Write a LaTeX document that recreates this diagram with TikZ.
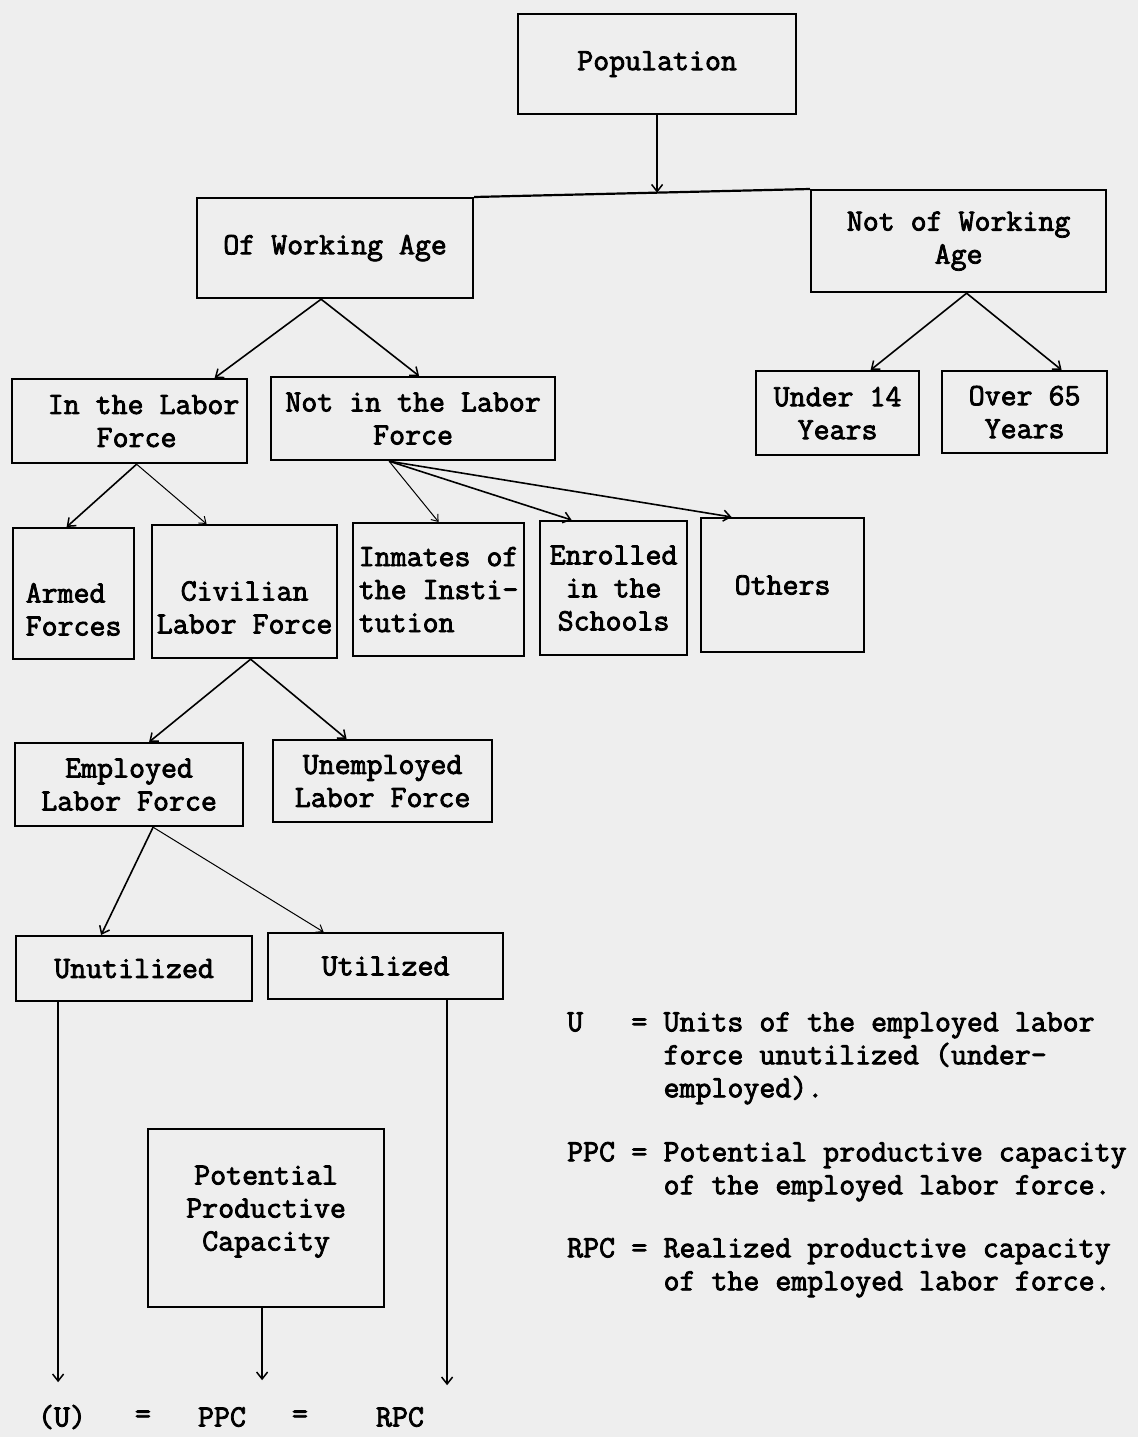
\documentclass[tikz,border=0pt]{standalone}
\usepackage{fontspec}
\setmonofont{Latin Modern Mono}[FakeBold=2.6]
\usetikzlibrary{arrows.meta,calc}
\newcommand\twfont{\fontsize{31}{33}\selectfont\ttfamily}
\definecolor{paper}{RGB}{238,238,238}
\begin{document}
\begin{tikzpicture}[x=1pt,y=-1pt,
  box/.style={draw, line width=2.2pt, inner sep=0pt, align=center, anchor=north west, font=\twfont},
  txt/.style={inner sep=0pt, font=\twfont},
  conn/.style={line width=1.6pt, -{Straight Barb[length=7pt,width=11pt,line width=1.5pt]}},
  thin/.style={line width=1.0pt, -{Straight Barb[length=6pt,width=9pt,line width=1pt]}},
  plain/.style={line width=1.6pt}
]
\fill[paper] (0,0) rectangle (1138,1437);
\useasboundingbox (0,0) rectangle (1138,1437);

% boxes
\node[box, minimum width=278pt, minimum height=100pt] (pop) at (517,13) {Population};
\node[box, minimum width=276pt, minimum height=100pt] (owa) at (196,197) {Of Working Age};
\node[box, minimum width=295pt, minimum height=102pt] (nwa) at (810,189) {Not of Working\\Age};
\node[box, minimum width=235pt, minimum height=84pt] (ilf) at (11,378) {\hspace*{28pt}In the Labor\\\hspace*{14pt}Force};
\node[box, minimum width=284pt, minimum height=83pt] (nilf) at (270,376) {Not in the Labor\\Force};
\node[box, minimum width=163pt, minimum height=84pt] (u14) at (755,370) {Under 14\\Years};
\node[box, minimum width=165pt, minimum height=82pt] (o65) at (941,370) {Over 65\\Years};
\node[box, minimum width=121pt, minimum height=131pt, align=left] (armed) at (12,527) {\rule{0pt}{51pt}Armed\\Forces};
\node[box, minimum width=185pt, minimum height=133pt] (civ) at (151,524) {\rule{0pt}{51pt}Civilian\\Labor Force};
\node[box, minimum width=171pt, minimum height=133pt, align=left] (inm) at (352,522) {Inmates of\\the Insti-\\tution};
\node[box, minimum width=147pt, minimum height=134pt] (enr) at (539,520) {Enrolled\\in the\\Schools};
\node[box, minimum width=163pt, minimum height=134pt] (oth) at (700,517) {Others};
\node[box, minimum width=228pt, minimum height=83pt] (emp) at (14,742) {Employed\\Labor Force};
\node[box, minimum width=219pt, minimum height=82pt] (unemp) at (272,739) {Unemployed\\Labor Force};
\node[box, minimum width=236pt, minimum height=65pt] (unut) at (15,935) {Unutilized};
\node[box, minimum width=235pt, minimum height=66pt] (util) at (267,932) {Utilized};
\node[box, minimum width=236pt, minimum height=178pt] (ppc) at (147,1128) {Potential\\Productive\\Capacity\rule[-20pt]{0pt}{20pt}};

% population split
\draw[line width=2.2pt] (owa.north east) -- (nwa.north west)
  coordinate[pos=0.543] (j1);
\draw[conn] (pop.south) -- (pop.south |- j1);

% of working age
\coordinate (owaA) at ([xshift=-14pt]owa.south);
\draw[conn] (owaA) -- ([xshift=85pt]ilf.north);
\draw[conn] (owaA) -- ([xshift=6pt]nilf.north);

% not of working age
\coordinate (nwaA) at ([xshift=8pt]nwa.south);
\draw[conn] (nwaA) -- ([xshift=33pt]u14.north);
\draw[conn] (nwaA) -- ([xshift=37pt]o65.north);

% in the labor force
\coordinate (ilfA) at ([xshift=7pt]ilf.south);
\draw[conn] (ilfA) -- ([xshift=-7pt]armed.north);
\draw[thin] (ilfA) -- ([xshift=-38pt]civ.north);

% not in the labor force
\coordinate (nilfA) at ([xshift=-24pt]nilf.south);
\draw[thin] (nilfA) -- (inm.north);
\draw[conn] (nilfA) -- ([xshift=-42pt]enr.north);
\draw[conn] (nilfA) -- ([xshift=-51pt]oth.north);

% civilian
\coordinate (civA) at ([xshift=6pt]civ.south);
\draw[conn] (civA) -- ([xshift=20pt]emp.north);
\draw[conn] (civA) -- ([xshift=-36pt]unemp.north);

% employed
\coordinate (empA) at ([xshift=24pt]emp.south);
\draw[conn] (empA) -- ([xshift=-33pt]unut.north);
\draw[thin] (empA) -- ([xshift=-62pt]util.north);

% bottom arrows
\coordinate (endU) at ($([xshift=-76pt]unut.south)+(0,380)$);
\coordinate (endP) at ($([xshift=-4pt]ppc.south)+(0,72)$);
\coordinate (endR) at ($([xshift=61.5pt]util.south)+(0,385)$);
\draw[conn] ([xshift=-76pt]unut.south) -- (endU);
\draw[conn] ([xshift=-4pt]ppc.south) -- (endP);
\draw[conn] ([xshift=61.5pt]util.south) -- (endR);

% bottom equation
\node[txt] (eqU) at (62,1417) {(U)};
\node[txt] (eq1) at (143,1417) {=};
\node[txt] (eqP) at (222,1417) {PPC};
\node[txt] (eq2) at (300,1417) {=};
\node[txt] (eqR) at (400,1417) {RPC};

% legend
\node[txt, anchor=north west] (legend) at (567,1008) {%
\begin{tabular}{@{}l@{\hspace{0.525em}}l@{\hspace{0.525em}}l@{}}
U & = & Units of the employed labor\\
  &   & force unutilized (under-\\
  &   & employed).\\[31pt]
PPC & = & Potential productive capacity\\
    &   & of the employed labor force.\\[30pt]
RPC & = & Realized productive capacity\\
    &   & of the employed labor force.
\end{tabular}};
\end{tikzpicture}
\end{document}
